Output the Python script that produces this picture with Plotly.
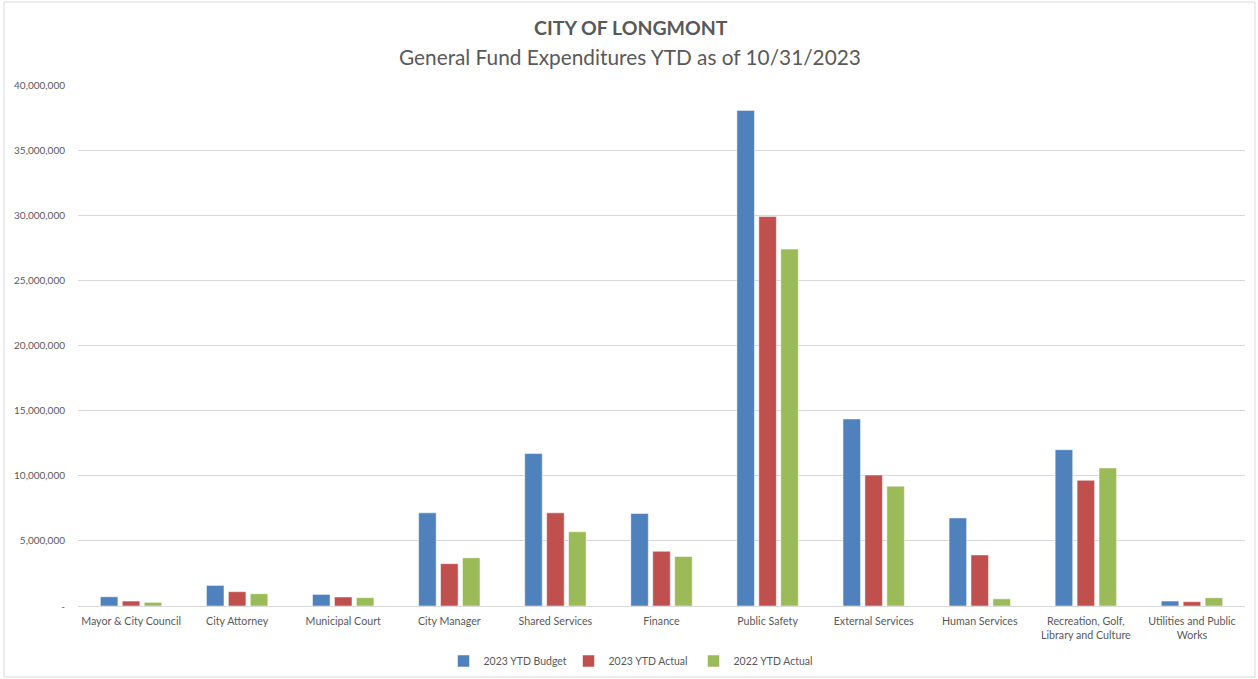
import plotly.graph_objects as go

categories = ["Mayor & City Council", "City Attorney", "Municipal Court", "City Manager",
              "Shared Services", "Finance", "Public Safety", "External Services",
              "Human Services", "Recreation, Golf,<br>Library and Culture", "Utilities and Public<br>Works"]
budget_2023 = [710000, 1580000, 890000, 7150000, 11700000, 7100000, 38050000, 14360000, 6760000, 12000000, 380000]
actual_2023 = [380000, 1100000, 690000, 3250000, 7150000, 4200000, 29900000, 10060000, 3920000, 9650000, 330000]
actual_2022 = [280000, 940000, 640000, 3700000, 5700000, 3800000, 27400000, 9200000, 550000, 10600000, 630000]
series_names = ["2023 YTD Budget", "2023 YTD Actual", "2022 YTD Actual"]
colors = ["#4F81BD", "#C0504D", "#9BBB59"]
tick_vals = [0, 5000000, 10000000, 15000000, 20000000, 25000000, 30000000, 35000000, 40000000]
tick_text = ["-", "5,000,000", "10,000,000", "15,000,000", "20,000,000", "25,000,000",
             "30,000,000", "35,000,000", "40,000,000"]

fig = go.Figure()
for name, vals, c in zip(series_names, [budget_2023, actual_2023, actual_2022], colors):
    fig.add_trace(go.Bar(x=categories, y=vals, name=name, marker=dict(color=c, line=dict(color="white", width=0.5))))

W, H = 1258, 679
L, R, T, B = 78, 13, 85, 73
pw, ph = W - L - R, H - T - B

def px(x):
    return (x - L) / pw

def py(y):
    return (H - B - y) / ph

font_fam = "Lato, 'Open Sans', sans-serif"
fig.update_layout(
    width=W, height=H,
    margin=dict(l=L, r=R, t=T, b=B, autoexpand=False),
    paper_bgcolor="white", plot_bgcolor="white",
    barmode="group", bargap=0.38, bargroupgap=0.2,
    font=dict(family=font_fam, color="#595959", size=11),
    showlegend=True,
    legend=dict(orientation="h", x=px(631), xanchor="center", y=py(661), yanchor="middle",
                font=dict(size=10.5, color="#595959"), itemwidth=30, traceorder="normal",
                entrywidth=80, entrywidthmode="pixels"),
    xaxis=dict(showgrid=False, showline=True, linecolor="#D9D9D9", ticks="", automargin=False,
               tickfont=dict(size=10.7, color="#595959"), ticklabelstandoff=5),
    yaxis=dict(range=[0, 40000000], tickvals=tick_vals, ticktext=tick_text, automargin=False,
               showgrid=True, gridcolor="#D9D9D9", zeroline=False, showline=False,
               tickfont=dict(size=10, color="#595959"), ticklabelstandoff=12),
    annotations=[
        dict(text="<b>CITY OF LONGMONT</b>", x=px(631), y=py(27), xref="paper", yref="paper",
             xanchor="center", yanchor="middle",
             showarrow=False, font=dict(size=19.5, color="#595959", family=font_fam)),
        dict(text="General Fund Expenditures YTD as of 10/31/2023", x=px(630), y=py(56),
             xref="paper", yref="paper", xanchor="center", yanchor="middle", showarrow=False,
             font=dict(size=20.8, color="#595959", family=font_fam)),
    ],
    shapes=[dict(type="rect", xref="paper", yref="paper", x0=px(4), x1=px(1255), y0=py(677), y1=py(2),
                 line=dict(color="#D9D9D9", width=1), layer="below")],
)
fig.write_html("out.html", config={"displayModeBar": False},
               post_script="document.body.style.margin='0';document.body.style.overflow='hidden';")
